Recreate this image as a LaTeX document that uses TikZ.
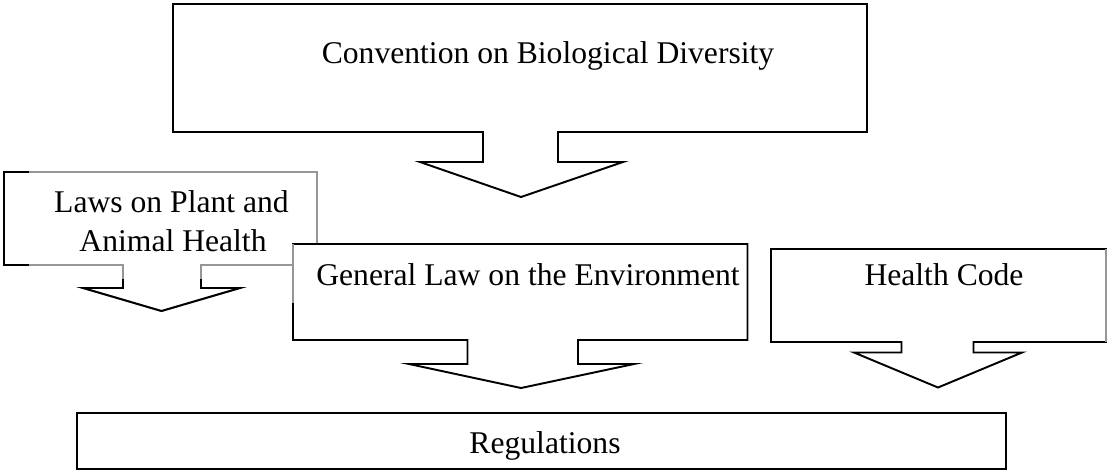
\documentclass[tikz,border=0pt]{standalone}
\usepackage{fontspec}
\setmainfont{Liberation Serif}
\usepackage{tikz}
\usetikzlibrary{positioning}
\usepackage{xcolor}
\definecolor{faint}{RGB}{150,150,150}

\begin{document}
\begin{tikzpicture}[x=0.02cm, y=-0.02cm,
    font=\fontsize{18pt}{22pt}\selectfont,
    callout/.style={draw=black, line width=1.1pt, fill=white, line join=miter},
    faded/.style={draw=faint, line width=1.1pt},
    caption/.style={anchor=base, inner sep=0pt}]
  \useasboundingbox (0,0) rectangle (1108,471);

  % top box with its arrow
  \draw[callout] (173,4) -- (867,4) -- (867,132) -- (558,132) -- (558,162)
    -- (623,162) -- (521,197) -- (420,162) -- (483,162) -- (483,132)
    -- (173,132) -- cycle;
  \node[caption] (cbd) at (548,63) {Convention on Biological Diversity};

  % left box, mostly faded outline
  \draw[faded, fill=white] (4,172) -- (317,172) -- (317,265) -- (201,265)
    -- (201,288) -- (240,288) -- (161.5,311) -- (83,288) -- (123,288)
    -- (123,265) -- (4,265) -- cycle;
  \draw[callout, fill=none] (29,172) -- (4,172) -- (4,265) -- (29,265);
  \draw[callout, fill=none] (123,279) -- (123,288) -- (83,288) -- (161.5,311)
    -- (240,288) -- (201,288) -- (201,279);
  \node[caption] (plant) at (171.5,212) {Laws on Plant and};
  \node[caption] (animal) at (173,251) {Animal Health};

  % middle box, drawn over the left one
  \draw[callout] (293,244) -- (747.5,244) -- (747.5,340) -- (578,340)
    -- (578,364) -- (634,364) -- (521,388) -- (409,364) -- (467.5,364)
    -- (467.5,340) -- (293,340) -- cycle;
  \draw[faded] (293,244) -- (293,303);
  \node[caption] (env) at (528,285) {General Law on the Environment};

  % right box
  \draw[callout] (771,249) -- (1106,249) -- (1106,342) -- (973.5,342)
    -- (973.5,352.5) -- (1022,352.5) -- (938,387.5) -- (854,352.5)
    -- (901.5,352.5) -- (901.5,342) -- (771,342) -- cycle;
  \draw[faded] (1106,249) -- (1106,342);
  \node[caption] (health) at (944,285) {Health Code};

  % bottom box
  \draw[callout] (77,413) rectangle (1006,469);
  \node[caption] (regs) at (545,453) {Regulations};
\end{tikzpicture}
\end{document}
